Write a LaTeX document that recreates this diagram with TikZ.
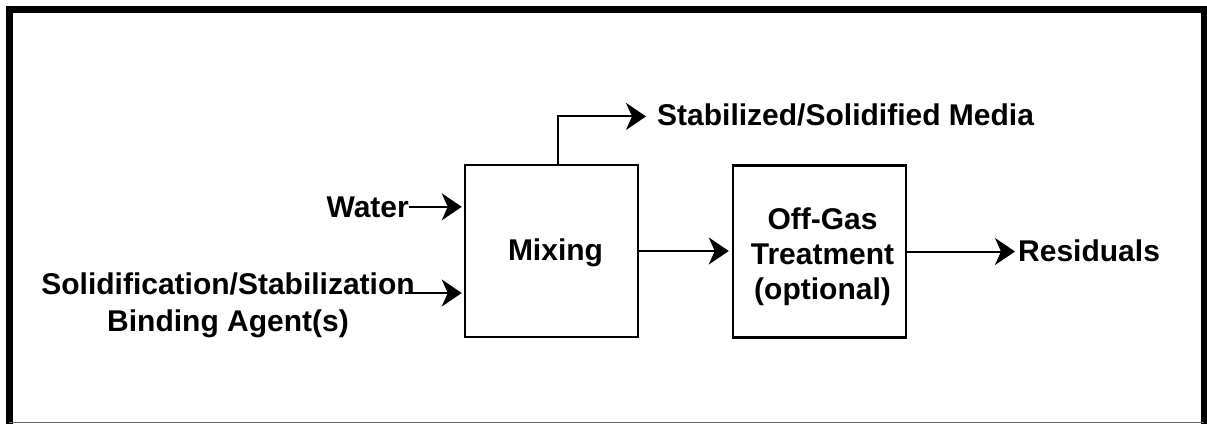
\documentclass[tikz,border=0pt]{standalone}
\usepackage{fontspec}
\setmainfont{Liberation Sans}
\usetikzlibrary{arrows.meta}
\tikzset{
  lbl/.style={inner sep=0pt, font=\bfseries\fontsize{30}{37}\selectfont},
  boxlbl/.style={inner sep=0pt, align=center, font=\bfseries\fontsize{30}{35}\selectfont},
  procbox/.style={draw, line width=2.5pt, minimum width=173pt, minimum height=172pt, inner sep=0pt},
  arr/.style={line width=2pt, -{Stealth[length=20pt,width=27pt,inset=6pt]}},
  frameline/.style={line width=7pt}
}
\begin{document}
\begin{tikzpicture}[x=1pt,y=-1pt]
\useasboundingbox (0,0) rectangle (1207,424);
% outer frame
\draw[frameline] (9,424) -- (9,9.5) -- (1204.5,9.5) -- (1204.5,424);
\draw[line width=1pt, black!60] (9,422.5) -- (1204,422.5);
% process boxes
\node[procbox] (mix) at (551.5,251) {};
\node[procbox] (gas) at (819.5,251.5) {};
\node[boxlbl, anchor=base] (mixtxt) at (555.5,260) {Mixing};
\node[boxlbl] (gastxt) at (822.5,257) {Off-Gas\\Treatment\\(optional)};
% labels
\node[lbl, anchor=base east] (water) at (409,217) {Water};
\node[lbl, align=center] (sol) at (228,305.5) {Solidification/Stabilization\\Binding Agent(s)};
\coordinate (solend) at (405,293);
\node[lbl, anchor=base west] (stab) at (657,125) {Stabilized/Solidified Media};
\node[lbl, anchor=west] (res) at (1018,251) {Residuals};
% connectors
\draw[arr, shorten >=2pt] (water.east) -- (water.east -| mix.west);
\draw[arr, shorten >=2pt] (solend) -- (solend -| mix.west);
\draw[arr] ([xshift=6.5pt]mix.north) |- ([xshift=-11pt,yshift=-2pt]stab.west);
\draw[arr, shorten >=3pt] (mix.east) -- (mix.east -| gas.west);
\draw[arr, shorten >=3pt] (gas.east) -- (gas.east -| res.west);
\end{tikzpicture}
\end{document}
